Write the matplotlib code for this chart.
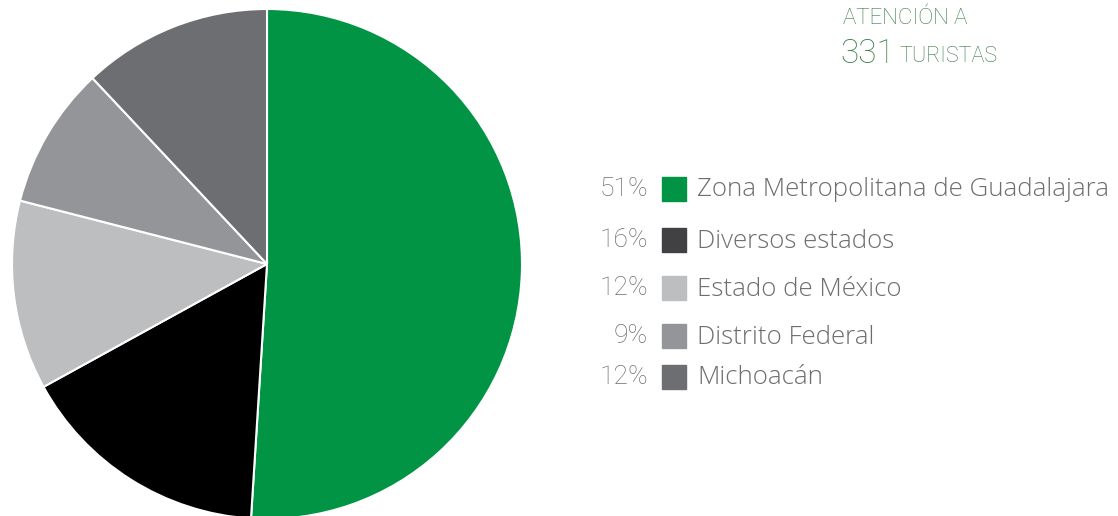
import matplotlib.pyplot as plt
from matplotlib.patches import Rectangle

categorias = ['Zona Metropolitana de Guadalajara', 'Diversos estados', 'Estado de México',
              'Distrito Federal', 'Michoacán']
porcentajes = [51, 16, 12, 9, 12]
colores_pie = ['#009444', '#000000', '#bcbec0', '#939598', '#6d6e71']
colores_leyenda = ['#009444', '#414042', '#bcbec0', '#939598', '#6d6e71']
total_turistas = 331

W, H = 1118, 516
fig = plt.figure(figsize=(W / 100, H / 100), dpi=100)

# pie: center (267, 264) px, radius 255 px
cx, cy, r = 267, 264, 255
ax = fig.add_axes([(cx - r) / W, (H - cy - r) / H, 2 * r / W, 2 * r / H])
ax.pie(porcentajes, colors=colores_pie, startangle=90, counterclock=False, radius=1,
       wedgeprops=dict(edgecolor='white', linewidth=1.5))
ax.set_xlim(-1, 1)
ax.set_ylim(-1, 1)
ax.set_aspect('auto')
ax.axis('off')

# legend drawn in pixel coordinates
lg = fig.add_axes([0, 0, 1, 1])
lg.set_xlim(0, W)
lg.set_ylim(H, 0)
lg.axis('off')
filas_y = [189, 240, 288, 336, 377]
gris = '#6d6e71'
for y, pct, cat, col in zip(filas_y, porcentajes, categorias, colores_leyenda):
    lg.add_patch(Rectangle((662, y - 12), 24, 24, color=col))
    lg.text(648, y, f'{pct}%', ha='right', va='center', fontsize=19, color=gris,
            family='Roboto', fontweight='light')
    lg.text(697, y + 1, cat, ha='left', va='center', fontsize=18.6, color=gris,
            family='Open Sans', fontweight='light')

verde = '#3a7b44'
lg.text(843, 19, 'ATENCIÓN A', ha='left', va='center', fontsize=16, color=verde,
        family='Roboto', fontweight='light')
lg.text(840, 54, f'{total_turistas}', ha='left', va='center', fontsize=24, color=verde,
        family='Roboto', fontweight='light')
lg.text(899, 57, 'TURISTAS', ha='left', va='center', fontsize=15.5, color=verde,
        family='Roboto', fontweight='light')

fig.savefig('out.png', dpi=100)
